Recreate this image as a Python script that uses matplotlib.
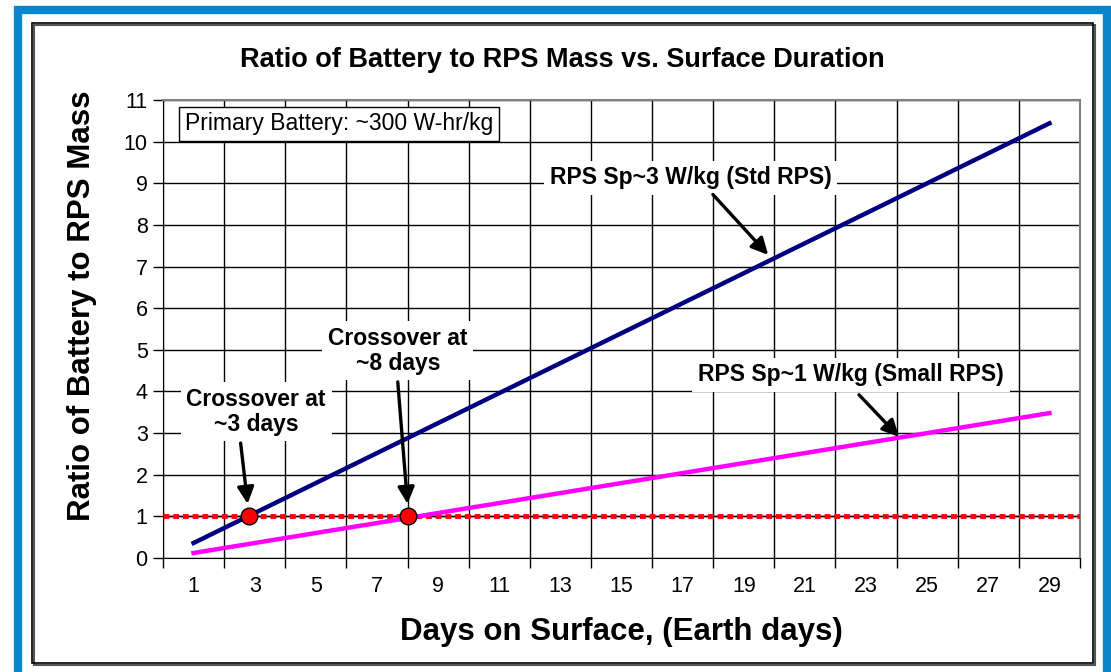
import numpy as np
import matplotlib
matplotlib.use("Agg")
import matplotlib.pyplot as plt
from matplotlib.patches import Rectangle

plt.rcParams['font.family'] = ['Liberation Sans', 'DejaVu Sans']

### Données
days = [1, 3, 5, 7, 9, 11, 13, 15, 17, 19, 21, 23, 25, 27, 29]
std_rps = [0.36, 1.08, 1.80, 2.52, 3.24, 3.96, 4.68, 5.40, 6.12, 6.84, 7.56, 8.28, 9.00, 9.72, 10.44]
small_rps = [0.12, 0.36, 0.60, 0.84, 1.08, 1.32, 1.56, 1.80, 2.04, 2.28, 2.52, 2.76, 3.00, 3.24, 3.48]
crossover_days = [2.8, 8.0]
crossover_ratio = [1, 1]
ratio_one = 1

W, H = 1111, 672
fig = plt.figure(figsize=(W / 100, H / 100), dpi=100)

def fx(px):
    return px / W

def fy(py):
    return 1 - py / H

### Cadre bleu et cadre noir (ombre)
fig.patches.append(Rectangle((fx(18), fy(690)), fx(1107) - fx(18), fy(10) - fy(690),
                             transform=fig.transFigure, fill=False, ec='#0A84CC', lw=6, zorder=-2))
fig.patches.append(Rectangle((fx(34), fy(665)), fx(1095) - fx(34), fy(25) - fy(665),
                             transform=fig.transFigure, fill=False, ec='#555555', lw=1.5, zorder=-2))
fig.patches.append(Rectangle((fx(32), fy(663)), fx(1093) - fx(32), fy(23) - fy(663),
                             transform=fig.transFigure, fill=False, ec='black', lw=1.2, zorder=-1))

ax = fig.add_axes([fx(163), fy(558), fx(1080) - fx(163), fy(100) - fy(558)])

ax.set_xlim(0, 30)
ax.set_ylim(0, 11)
ax.set_xticks(np.arange(0, 31, 2))
ax.set_xticklabels([])
ax.set_xticks(days, minor=True)
ax.set_xticklabels([str(d) for d in days], minor=True, fontsize=15.5)
ax.set_yticks(range(0, 12))
ax.tick_params(axis='y', labelsize=15.5, length=7, width=1, direction='out', pad=4)
ax.tick_params(axis='x', which='major', length=7, width=1, direction='out')
ax.tick_params(axis='x', which='minor', length=0, pad=13)
ax.grid(True, which='major', color='black', lw=1)
ax.set_axisbelow(True)
for s in ['top', 'right']:
    ax.spines[s].set_color('#808080')
    ax.spines[s].set_linewidth(1.5)

ax.axhline(ratio_one, color='black', lw=1, zorder=1)
ax.axhline(ratio_one, color='red', lw=3.5, linestyle=(0, (1.2, 0.8)), zorder=3)

ax.plot(days, std_rps, color='#000080', lw=3.2, zorder=4)
ax.plot(days, small_rps, color='#FF00FF', lw=3.2, zorder=4)
ax.plot(crossover_days, crossover_ratio, 'o', ms=12, mfc='red', mec='black', mew=1, zorder=6)

fig.text(fx(562), fy(60), 'Ratio of Battery to RPS Mass vs. Surface Duration',
         ha='center', va='center', fontsize=19.5, fontweight='bold')
fig.text(fx(82), fy(306), 'Ratio of Battery to RPS Mass', rotation=90,
         ha='center', va='center', fontsize=22.5, fontweight='bold')
fig.text(fx(621), fy(632), 'Days on Surface, (Earth days)',
         ha='center', va='center', fontsize=22.5, fontweight='bold')

ax.text(0.024, 0.948, 'Primary Battery: ~300 W-hr/kg', transform=ax.transAxes,
        ha='left', va='center', fontsize=16.5, zorder=7,
        bbox=dict(boxstyle='square,pad=0.25', fc='white', ec='black', lw=1))

bbox_w = dict(boxstyle='square,pad=0.25', fc='white', ec='none')
arrow = dict(arrowstyle='-|>,head_length=1.0,head_width=0.5', color='black', lw=2.4,
             shrinkA=0, shrinkB=0)

ax.text(3.05, 3.51, 'Crossover at\n~3 days', ha='center', va='center', fontsize=16.5,
        fontweight='bold', bbox=bbox_w, zorder=5, linespacing=1.1)
ax.annotate('', xy=(2.77, 1.3), xytext=(2.54, 2.76), arrowprops=arrow, zorder=7)

ax.text(7.68, 4.98, 'Crossover at\n~8 days', ha='center', va='center', fontsize=16.5,
        fontweight='bold', bbox=bbox_w, zorder=5, linespacing=1.1)
ax.annotate('', xy=(8.0, 1.3), xytext=(7.68, 4.23), arrowprops=arrow, zorder=7)

ax.text(17.27, 9.13, 'RPS Sp~3 W/kg (Std RPS)', ha='center', va='center', fontsize=16.5,
        fontweight='bold', bbox=bbox_w, zorder=5)
ax.annotate('', xy=(19.8, 7.28), xytext=(17.99, 8.73), arrowprops=arrow, zorder=7)

ax.text(22.51, 4.4, 'RPS Sp~1 W/kg (Small RPS)', ha='center', va='center', fontsize=16.5,
        fontweight='bold', bbox=bbox_w, zorder=5)
ax.annotate('', xy=(24.08, 2.91), xytext=(22.77, 3.92), arrowprops=arrow, zorder=7)

fig.savefig('out.png', dpi=100)
